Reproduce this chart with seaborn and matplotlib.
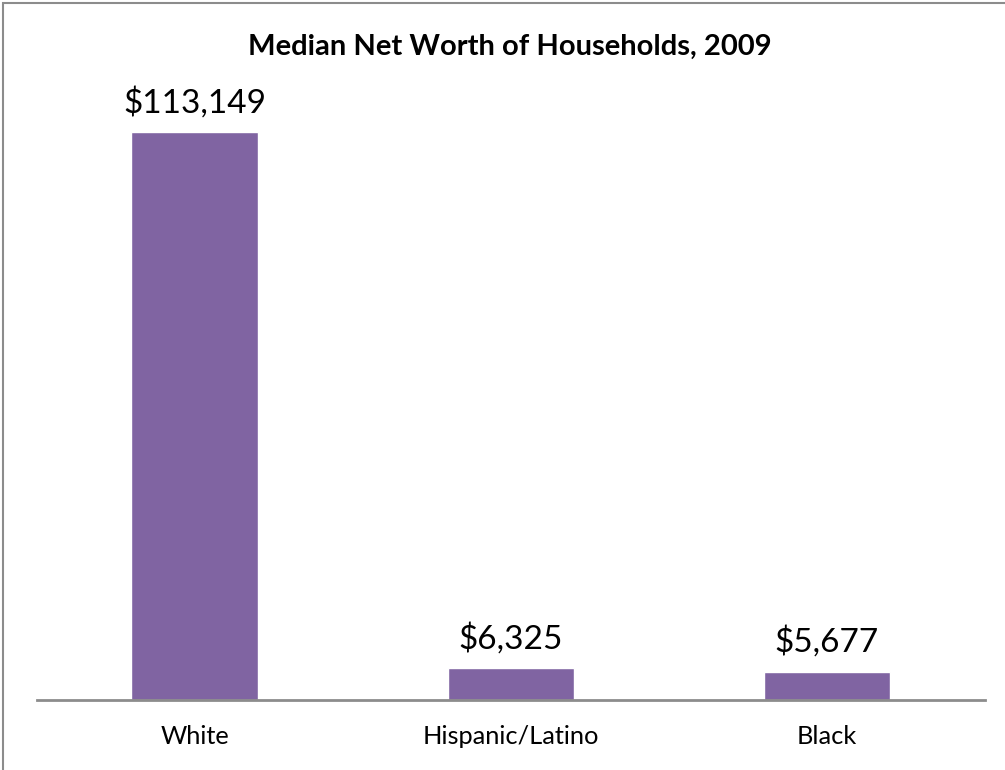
import matplotlib
matplotlib.use("Agg")
import matplotlib.pyplot as plt
import seaborn as sns
import pandas as pd
from matplotlib.patches import Rectangle

categories = ["White", "Hispanic/Latino", "Black"]
values = [113149, 6325, 5677]
labels = ["$113,149", "$6,325", "$5,677"]

sns.set_theme(style="white")
plt.rcParams['font.family'] = ['Lato', 'DejaVu Sans']

df = pd.DataFrame({"cat": categories, "val": values})

fig = plt.figure(figsize=(10.05, 7.70), dpi=100)
ax = fig.add_axes([36.5/1005, 1 - 700/770, 948.5/1005, 602/770])
sns.barplot(data=df, x="cat", y="val", color="#8064A2", saturation=1, width=0.4, ax=ax)
ax.set_xlim(-0.5, 2.5)
ax.set_ylim(0, 120000)
for i, (v, lab) in enumerate(zip(values, labels)):
    ax.annotate(lab, (i, v), xytext=(0, 14.4), textcoords="offset points",
                ha="center", va="baseline", fontsize=24, color="black")
for s in ["top", "right", "left"]:
    ax.spines[s].set_visible(False)
ax.spines["bottom"].set_color("#8c8c8c")
ax.spines["bottom"].set_linewidth(2)
ax.set_yticks([])
ax.set_xlabel("")
ax.set_ylabel("")
ax.tick_params(axis="x", length=0, pad=18, labelsize=18.3)
for t in ax.get_xticklabels():
    t.set_color("black")

fig.text(510/1005, 1 - 47/770, "Median Net Worth of Households, 2009",
         ha="center", va="center", fontsize=21, fontweight="bold", color="black")

fig.patches.append(Rectangle((3/1005, -0.05), 1.1, 1 - 3/770 + 0.05, transform=fig.transFigure,
                             fill=False, edgecolor="#8c8c8c", linewidth=1.5, zorder=10))

fig.savefig("out.png", dpi=100)
